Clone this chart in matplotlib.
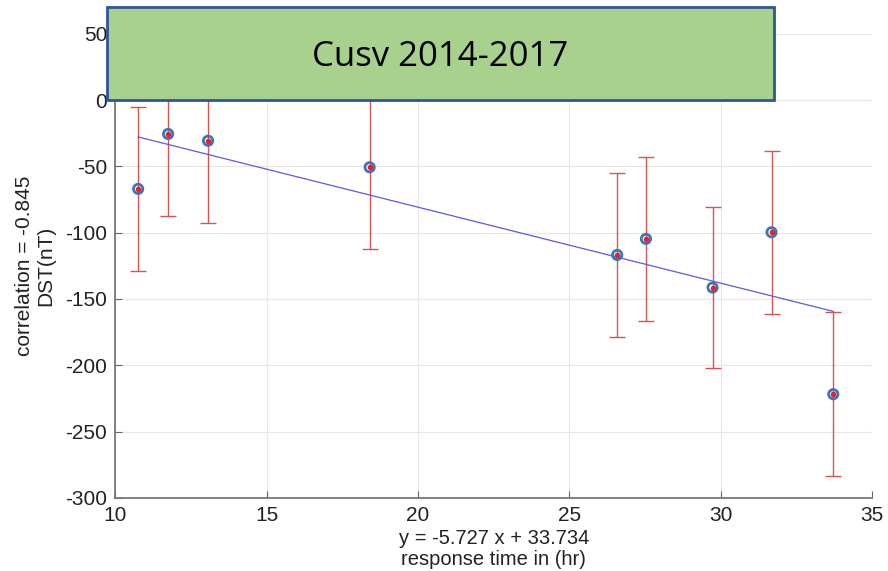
import matplotlib
matplotlib.use("Agg")
import matplotlib.pyplot as plt
import numpy as np
from matplotlib.patches import Rectangle

# Data
response_time = [10.75, 11.74, 13.06, 18.40, 26.58, 27.53, 29.73, 31.68, 33.72]
dst = [-67.0, -25.6, -30.7, -50.7, -116.8, -104.7, -141.4, -99.7, -221.8]
dst_err = [62, 62, 62, 62, 62, 62, 61, 61.5, 62]
fit_slope = -5.727
fit_intercept = 33.734
correlation = -0.845
title_text = "Cusv 2014-2017"
x_ticks = [10, 15, 20, 25, 30, 35]
y_ticks = [-300, -250, -200, -150, -100, -50, 0, 50]

plt.rcParams['font.family'] = ['Liberation Sans', 'DejaVu Sans']
plt.rcParams['axes.unicode_minus'] = False

fig = plt.figure(figsize=(8.88, 5.71), dpi=100)
ax = fig.add_axes([0.130, 0.128, 0.852, 0.813])

ax.errorbar(response_time, dst, yerr=dst_err, fmt='none', ecolor='#d9534f',
            elinewidth=1.0, capsize=6, capthick=1.0, zorder=2)
xs = np.array([min(response_time), max(response_time)])
ax.plot(xs, fit_slope * xs + fit_intercept, color='#5a5ae6', lw=0.9, zorder=3)
ax.scatter(response_time, dst, s=45, facecolors='none', edgecolors='#3f74b8',
           linewidths=2.0, zorder=4)
ax.scatter(response_time, dst, s=9, color='#e8202a', zorder=5)

ax.set_xlim(10, 35)
ax.set_ylim(-300, 50)
ax.set_xticks(x_ticks)
ax.set_yticks(y_ticks)
ax.tick_params(direction='in', length=5, labelsize=15, colors='#666666',
               labelcolor='#222222', pad=6)
ax.grid(True, color='#e6e6e6', lw=0.8)
ax.set_axisbelow(True)
for s in ['top', 'right']:
    ax.spines[s].set_visible(False)
for s in ['left', 'bottom']:
    ax.spines[s].set_color('#777777')
    ax.spines[s].set_linewidth(1.3)

ax.set_xlabel(f"y = {fit_slope} x + {fit_intercept}\nresponse time in (hr)",
              fontsize=14.5, color='#222222', linespacing=1.1, labelpad=3)
ax.set_ylabel(f"correlation = {correlation}\nDST(nT)", fontsize=15,
              color='#222222', linespacing=1.1)
ax.yaxis.set_label_coords(-0.08, 0.5)

# Green title box overlay
bx0, bx1 = 107 / 888, 774 / 888
by0, by1 = 1 - 100 / 571, 1 - 7 / 571
fig.patches.append(Rectangle((bx0, by0), bx1 - bx0, by1 - by0,
                             transform=fig.transFigure, facecolor='#a9d18e',
                             edgecolor='#2f5597', linewidth=2.0, zorder=10))
fig.text((bx0 + bx1) / 2, (by0 + by1) / 2 - 0.006, title_text, ha='center',
         va='center', fontsize=25, family=['Open Sans', 'DejaVu Sans'],
         color='black', zorder=11)

fig.savefig("out.png", dpi=100)
